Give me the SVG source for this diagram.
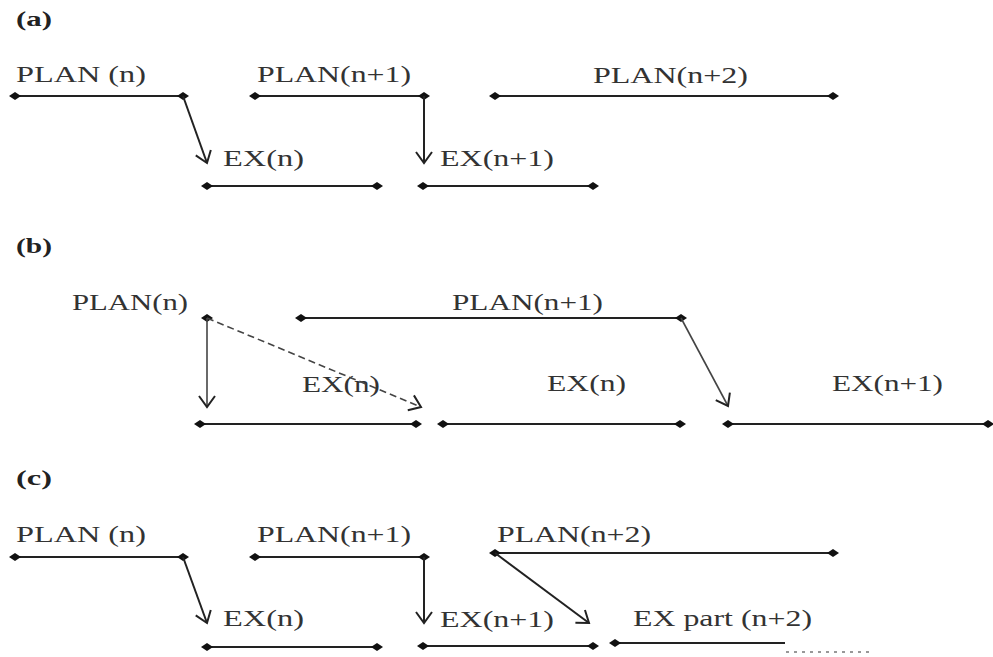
<svg xmlns="http://www.w3.org/2000/svg" width="993" height="657" viewBox="0 0 993 657">
<style>
text{font-family:"Liberation Serif","Times New Roman",serif;font-size:24px;fill:#333}
.lbl{font-weight:bold;font-size:21px;fill:#222}
.seg{stroke:#222;stroke-width:2;fill:none;marker-start:url(#dia);marker-end:url(#dia)}
.arr{stroke:#222;stroke-width:2;fill:none;marker-end:url(#head)}
.arrb{stroke:#444;stroke-width:1.6;fill:none;marker-end:url(#head)}
.dash{stroke-dasharray:7,4}
</style>
<defs>
<marker id="dia" markerUnits="userSpaceOnUse" markerWidth="12" markerHeight="9" refX="6" refY="4.5" viewBox="0 0 12 9" orient="0">
<path d="M0,4.5 L6,0.5 L12,4.5 L6,8.5 Z" fill="#111"/>
</marker>
<marker id="head" markerUnits="userSpaceOnUse" markerWidth="24" markerHeight="24" refX="12" refY="12" viewBox="0 0 24 24" orient="auto">
<path d="M1,4 L12,12 L1,20" fill="none" stroke="#222" stroke-width="2"/>
</marker>
</defs>

<text class="lbl" x="16" y="26" textLength="36" lengthAdjust="spacingAndGlyphs">(a)</text>
<text class="lbl" x="16" y="253" textLength="36" lengthAdjust="spacingAndGlyphs">(b)</text>
<text class="lbl" x="16" y="485" textLength="36" lengthAdjust="spacingAndGlyphs">(c)</text>

<!-- (a) -->
<g id="a-plan-n"><line class="seg" x1="15" y1="96" x2="183" y2="96"/><text x="16" y="82" textLength="130" lengthAdjust="spacingAndGlyphs">PLAN (n)</text></g>
<g id="a-plan-n1"><line class="seg" x1="255" y1="96" x2="424" y2="96"/><text x="257" y="82" textLength="154" lengthAdjust="spacingAndGlyphs">PLAN(n+1)</text></g>
<g id="a-plan-n2"><line class="seg" x1="495" y1="96" x2="833" y2="96"/><text x="593" y="83" textLength="155" lengthAdjust="spacingAndGlyphs">PLAN(n+2)</text></g>
<g id="a-ex-n"><line class="seg" x1="207" y1="186" x2="377" y2="186"/><text x="223" y="166" textLength="81" lengthAdjust="spacingAndGlyphs">EX(n)</text></g>
<g id="a-ex-n1"><line class="seg" x1="423" y1="186" x2="593" y2="186"/><text x="440" y="166" textLength="114" lengthAdjust="spacingAndGlyphs">EX(n+1)</text></g>

<!-- (b) -->
<g id="b-plan-n"><path d="M201,318 L207,314 L213,318 L207,322 Z" fill="#111"/><text x="72" y="310" textLength="116" lengthAdjust="spacingAndGlyphs">PLAN(n)</text></g>
<g id="b-plan-n1"><line class="seg" x1="301" y1="318" x2="681" y2="318"/><text x="452" y="310" textLength="151" lengthAdjust="spacingAndGlyphs">PLAN(n+1)</text></g>
<g id="b-ex-n-a"><line class="seg" x1="200" y1="424" x2="416" y2="424"/><text x="302" y="392" textLength="78" lengthAdjust="spacingAndGlyphs">EX(n)</text></g>
<g id="b-ex-n-b"><line class="seg" x1="443" y1="424" x2="680" y2="424"/><text x="547" y="391" textLength="79" lengthAdjust="spacingAndGlyphs">EX(n)</text></g>
<g id="b-ex-n1"><line class="seg" x1="728" y1="424" x2="988" y2="424"/><text x="832" y="391" textLength="111" lengthAdjust="spacingAndGlyphs">EX(n+1)</text></g>

<!-- (c) -->
<g id="c-plan-n"><line class="seg" x1="15" y1="557" x2="183" y2="557"/><text x="16" y="542" textLength="130" lengthAdjust="spacingAndGlyphs">PLAN (n)</text></g>
<g id="c-plan-n1"><line class="seg" x1="255" y1="557" x2="424" y2="557"/><text x="257" y="542" textLength="154" lengthAdjust="spacingAndGlyphs">PLAN(n+1)</text></g>
<g id="c-plan-n2"><line class="seg" x1="495" y1="553" x2="833" y2="553"/><text x="497" y="542" textLength="154" lengthAdjust="spacingAndGlyphs">PLAN(n+2)</text></g>
<g id="c-ex-n"><line class="seg" x1="207" y1="647" x2="377" y2="647"/><text x="223" y="626" textLength="81" lengthAdjust="spacingAndGlyphs">EX(n)</text></g>
<g id="c-ex-n1"><line class="seg" x1="423" y1="646" x2="593" y2="646"/><text x="440" y="627" textLength="114" lengthAdjust="spacingAndGlyphs">EX(n+1)</text></g>
<g id="c-ex-part"><line x1="615" y1="643" x2="785" y2="643" stroke="#222" stroke-width="2" marker-start="url(#dia)"/><line x1="786" y1="652" x2="873" y2="652" stroke="#777" stroke-width="1.5" stroke-dasharray="3,5"/><text x="633" y="626" textLength="179" lengthAdjust="spacingAndGlyphs">EX part (n+2)</text></g>

<g id="connectors">
<line class="arr" x1="183" y1="96" x2="207" y2="163"/>
<line class="arr" x1="424" y1="96" x2="424" y2="163"/>
<line class="arrb" x1="207" y1="318" x2="207" y2="407"/>
<line class="arrb dash" x1="207" y1="318" x2="421" y2="407"/>
<line class="arrb" x1="681" y1="318" x2="728" y2="406"/>
<line class="arr" x1="183" y1="557" x2="207" y2="623"/>
<line class="arr" x1="424" y1="557" x2="424" y2="623"/>
<line class="arr" x1="495" y1="553" x2="589" y2="623"/>
</g>
</svg>
